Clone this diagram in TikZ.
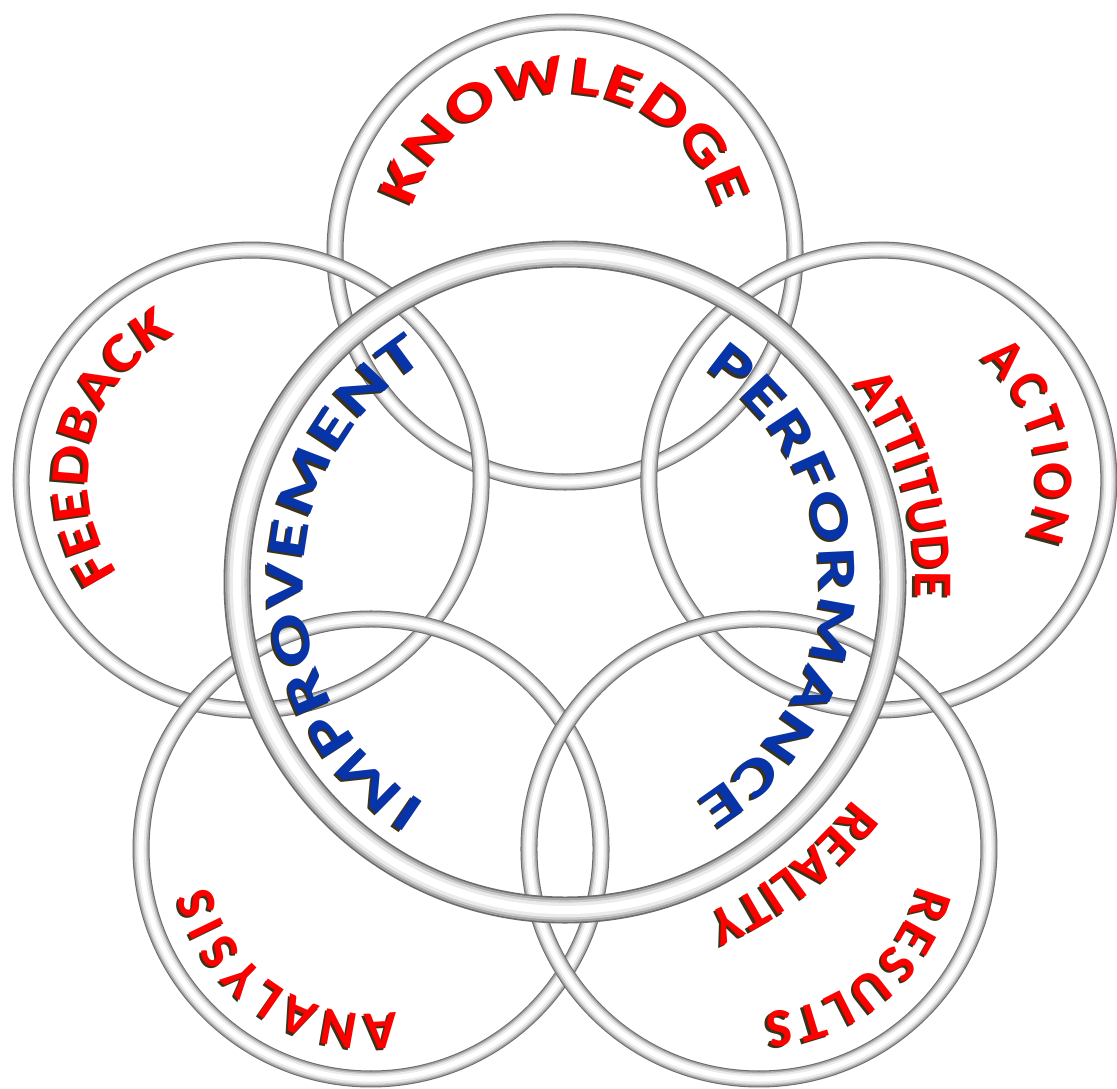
\documentclass[tikz,border=0pt]{standalone}
\usepackage{fontspec}
\newfontfamily\lblfamily{Carlito}
\newcommand\lblfont{\lblfamily\bfseries\fontsize{15.5}{18}\selectfont}
\definecolor{lblred}{RGB}{255,0,0}
\definecolor{lblblue}{RGB}{8,52,170}
\definecolor{lblshade}{RGB}{60,50,25}
% width of one letter into \lblw
\newcommand\lblmeasure[1]{\pgfinterruptpicture\setbox0\hbox{\lblfont #1}\xdef\lblw{\the\wd0}\endpgfinterruptpicture}
% letters stretched clockwise over an arc: [gap in pt] name, colour, centre, radius, start, end, letters
\newcommand\ringlabel[8][0.6]{%
  \gdef\lblsum{0}\gdef\lblcnt{0}%
  \foreach \ch in {#8}{%
    \lblmeasure{\ch}%
    \pgfmathsetmacro\tmp{\lblsum+\lblw}\xdef\lblsum{\tmp}%
    \pgfmathtruncatemacro\tmp{\lblcnt+1}\xdef\lblcnt{\tmp}}%
  \pgfmathsetmacro\lblrad{#5*28.4527}%
  \pgfmathsetmacro\lblarc{\lblrad*pi/180*(#6-(#7))}%
  \pgfmathsetmacro\lblscl{(\lblsum>1)*((\lblarc-(\lblcnt-1)*#1)/max(\lblsum,1))+(1-(\lblsum>1))}%
  \pgfmathsetmacro\lblgap{(\lblsum>1)*#1+(1-(\lblsum>1))*\lblarc/(\lblcnt-1)}%
  \xdef\lblrad{\lblrad}\xdef\lblscl{\lblscl}\xdef\lblgap{\lblgap}\gdef\lblpos{0}%
  \foreach \ch [count=\i] in {#8}{%
    \lblmeasure{\ch}%
    \pgfmathsetmacro\lblang{#6-(\lblpos+0.5*\lblscl*\lblw)/\lblrad*180/pi}%
    \path (#4) ++(\lblang:#5)
      node[lbltext, text=lblshade, xshift=-0.6pt, yshift=-0.6pt, rotate=\lblang-90, xscale=\lblscl] (#2s\i) {\ch}
      node[lbltext, text=#3, rotate=\lblang-90, xscale=\lblscl] (#2\i) {\ch};
    \pgfmathsetmacro\tmp{\lblpos+\lblscl*\lblw+\lblgap}\xdef\lblpos{\tmp}}%
}

\begin{document}
\begin{tikzpicture}[
    tube/.style={draw=white, line width=0.3*#1,
      preaction={draw=black!58, line width=#1},
      preaction={draw=black!36, line width=0.88*#1},
      preaction={draw=black!20, line width=0.72*#1},
      preaction={draw=black!8, line width=0.55*#1}},
    lbltext/.style={inner sep=0pt, anchor=base, font=\lblfont}
  ]
  \fill[white] (0,0) rectangle (11.17,-10.88);
  \useasboundingbox (0,0) rectangle (11.17,-10.88);

  \coordinate (O) at (5.65,-5.82);
  \path (O) +(90:3.3) coordinate (cK) +(162:3.3) coordinate (cF)
    +(18:3.3) coordinate (cA) +(234:3.3) coordinate (cN) +(306:3.3) coordinate (cR);

  % rings
  \foreach \c in {cK,cF,cA,cN,cR}
    \draw[tube=1.7mm] (\c) circle[radius=2.3];
  \draw[tube=2.7mm] (O) circle[radius=3.28];

  % outer circles
  \ringlabel[0.5]{know}{lblred}{cK}{1.59}{164}{16}{K,N,O,W,L,E,D,G,E}
  \ringlabel[0.2]{feed}{lblred}{cF}{1.63}{215}{117.5}{F,E,E,D,B,A,C,K}
  \ringlabel[1.3]{act}{lblred}{cA}{1.58}{50}{-21.5}{A,C,T,I,O,N}
  \ringlabel[1.2]{ana}{lblred}{cN}{1.65}{279}{193}{A,N,A,L,Y,S,I,S}
  \ringlabel[1.0]{res}{lblred}{cR}{1.63}{-13}{-88}{R,E,S,U,L,T,S}
  % round the big ring
  \ringlabel[0.2]{att}{lblred}{O}{3.50}{34.6}{-2.5}{A,T,T,I,T,U,D,E}
  \ringlabel[0.3]{real}{lblred}{O}{3.61}{-37}{-67}{R,E,A,L,I,T,Y}
  \ringlabel[0.6]{perf}{lblblue}{O}{2.55}{56.8}{-59}{P,E,R,F,O,R,M,A,N,C,E}
  \ringlabel[0.6]{impr}{lblblue}{O}{2.62}{238}{122}{I,M,P,R,O,V,E,M,E,N,T}
\end{tikzpicture}
\end{document}
